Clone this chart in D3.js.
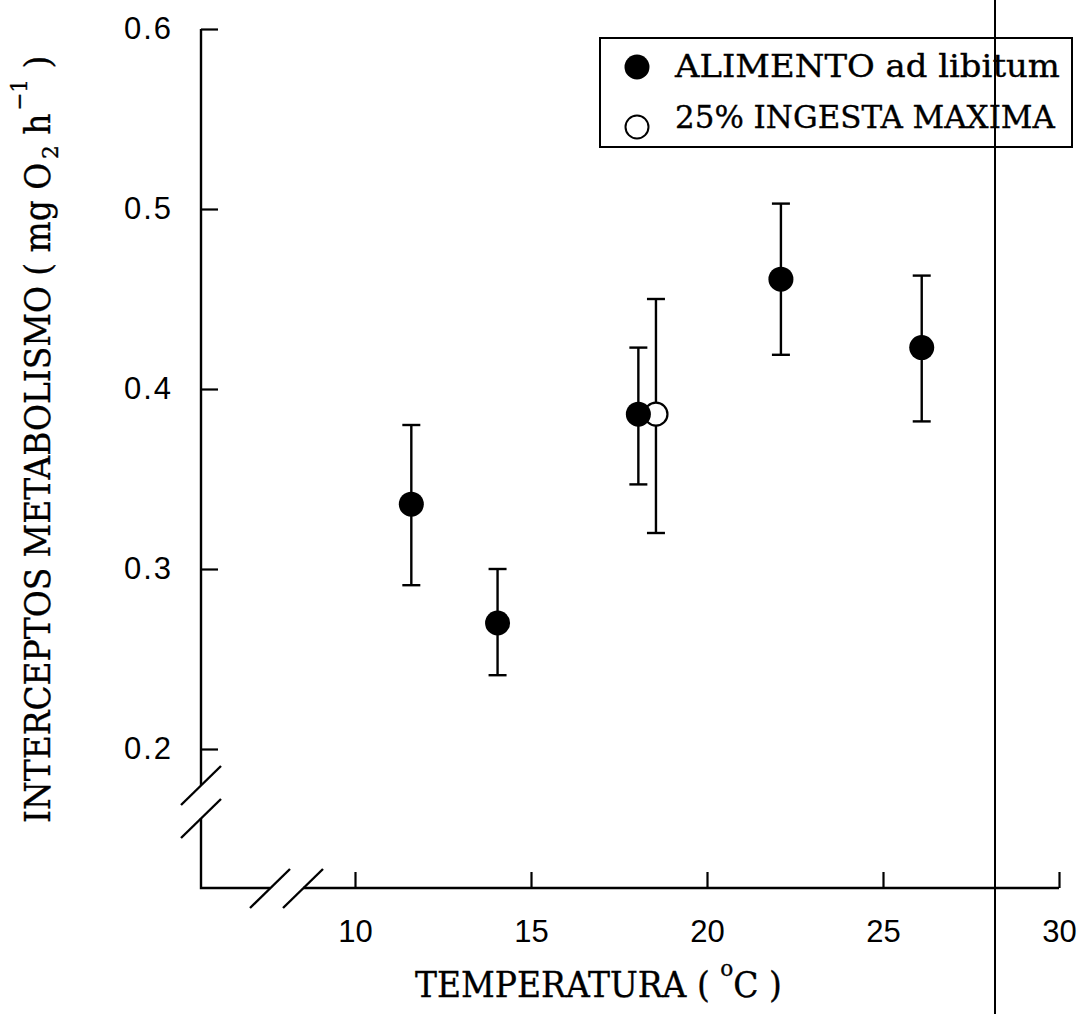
<!DOCTYPE html>
<html>
<head>
<meta charset="utf-8">
<script src="https://cdn.jsdelivr.net/npm/d3@7"></script>
<style>
  body { margin: 0; background: #fff; }
  svg { display: block; }
</style>
</head>
<body>
<svg id="chart" width="1082" height="1014"></svg>
<script>
// Metabolic intercepts vs temperature, two feeding regimes (mean with error range)
const adLibTemp   = [11.6, 14.05, 18.05, 22.1, 26.1];
const adLibMean   = [0.336, 0.270, 0.386, 0.461, 0.423];
const adLibUpper  = [0.380, 0.300, 0.423, 0.503, 0.463];
const adLibLower  = [0.291, 0.241, 0.347, 0.419, 0.382];

const ration25Temp  = [18.55];
const ration25Mean  = [0.386];
const ration25Upper = [0.450];
const ration25Lower = [0.320];

const xTickValues = [10, 15, 20, 25, 30];
const yTickValues = [0.2, 0.3, 0.4, 0.5, 0.6];
const legendLabels = ["ALIMENTO ad libitum", "25% INGESTA MAXIMA"];

const svg = d3.select("#chart");
const W = 1082, H = 1014;

const x = d3.scaleLinear().domain([10, 30]).range([355, 1059]);
const y = d3.scaleLinear().domain([0.2, 0.6]).range([749, 29]);

const axisLeftX = 201;     // position of the y axis line
const axisBottomY = 888;   // position of the x axis line
const ink = "#000";
const serif = "'DejaVu Serif', 'Liberation Serif', serif";
const sans = "'Liberation Sans', Arial, sans-serif";

// ---- axes (ticks point inward) ----
const yAxis = d3.axisLeft(y).tickValues(yTickValues)
  .tickFormat(d3.format(".1f")).tickSizeInner(-17).tickSizeOuter(0).tickPadding(28);
const gy = svg.append("g").attr("transform", `translate(${axisLeftX},0)`).call(yAxis);
gy.select(".domain").remove();
gy.selectAll(".tick line").attr("stroke", ink).attr("stroke-width", 2.2);
gy.selectAll(".tick text").attr("font-family", sans).attr("font-size", 31)
  .attr("letter-spacing", 2).attr("fill", ink);

const xAxis = d3.axisBottom(x).tickValues(xTickValues)
  .tickFormat(d3.format("d")).tickSizeInner(-16).tickSizeOuter(0).tickPadding(32);
const gx = svg.append("g").attr("transform", `translate(0,${axisBottomY})`).call(xAxis);
gx.select(".domain").remove();
gx.selectAll(".tick line").attr("stroke", ink).attr("stroke-width", 2.2);
gx.selectAll(".tick text").attr("font-family", sans).attr("font-size", 31).attr("fill", ink);

// axis lines with scale breaks
const axisG = svg.append("g").attr("stroke", ink).attr("stroke-width", 2.4).attr("fill", "none");
const yBreakA = y(0.2) + 36, yBreakB = y(0.2) + 69;
const xBreakA = axisLeftX + 69, xBreakB = axisLeftX + 102;
axisG.append("path").attr("d", `M${axisLeftX},${y(0.6)}V${yBreakA}`);
axisG.append("path").attr("d", `M${axisLeftX},${yBreakB}V${axisBottomY}H${xBreakA}`);
axisG.append("path").attr("d", `M${xBreakB},${axisBottomY}H${x(30)}`);
// break slashes
const slash = (cx, cy) => `M${cx - 20},${cy + 20}L${cx + 20},${cy - 19}`;
axisG.append("path").attr("d", slash(axisLeftX, yBreakA));
axisG.append("path").attr("d", slash(axisLeftX, yBreakB));
axisG.append("path").attr("d", slash(xBreakA, axisBottomY));
axisG.append("path").attr("d", slash(xBreakB, axisBottomY));

// ---- data ----
const adLib = adLibTemp.map((t, i) => ({ t, m: adLibMean[i], hi: adLibUpper[i], lo: adLibLower[i] }));
const ration = ration25Temp.map((t, i) => ({ t, m: ration25Mean[i], hi: ration25Upper[i], lo: ration25Lower[i] }));

const capHalf = 9;
function errorBars(data) {
  const g = svg.append("g").attr("stroke", ink).attr("stroke-width", 2.4);
  g.selectAll("line.v").data(data).join("line").attr("class", "v")
    .attr("x1", d => x(d.t)).attr("x2", d => x(d.t))
    .attr("y1", d => y(d.hi)).attr("y2", d => y(d.lo));
  g.selectAll("line.hi").data(data).join("line").attr("class", "hi")
    .attr("x1", d => x(d.t) - capHalf).attr("x2", d => x(d.t) + capHalf)
    .attr("y1", d => y(d.hi)).attr("y2", d => y(d.hi));
  g.selectAll("line.lo").data(data).join("line").attr("class", "lo")
    .attr("x1", d => x(d.t) - capHalf).attr("x2", d => x(d.t) + capHalf)
    .attr("y1", d => y(d.lo)).attr("y2", d => y(d.lo));
}
errorBars(ration);
errorBars(adLib);

svg.append("g").selectAll("circle").data(ration).join("circle")
  .attr("cx", d => x(d.t)).attr("cy", d => y(d.m)).attr("r", 11.5)
  .attr("fill", "#fff").attr("stroke", ink).attr("stroke-width", 2.2);
svg.append("g").selectAll("circle").data(adLib).join("circle")
  .attr("cx", d => x(d.t)).attr("cy", d => y(d.m)).attr("r", 12.5)
  .attr("fill", ink);

// ---- text helper: horizontal stretch factor so a text run spans a given length ----
function fitText(sel, target) {
  const w = sel.node().getComputedTextLength();
  return target / w;
}
const serifText = g => g.append("text").attr("font-family", serif).attr("fill", ink)
  .attr("stroke", ink).attr("stroke-width", 0.35);

// x axis title
{
  const g = svg.append("g");
  const t = serifText(g).attr("font-size", 35);
  t.append("tspan").text("TEMPERATURA ( ");
  t.append("tspan").attr("font-size", 23).attr("dy", -21).text("o");
  t.append("tspan").attr("dy", 21).text("C )");
  const s = fitText(t, 367);
  g.attr("transform", `translate(415,997) scale(${s},1)`);
}

// y axis title (rotated, reads bottom to top)
{
  const g = svg.append("g");
  const t = serifText(g).attr("font-size", 35);
  t.append("tspan").text("INTERCEPTOS METABOLISMO ( mg O");
  t.append("tspan").attr("font-size", 23).attr("dy", 8).attr("dx", 4).text("2");
  t.append("tspan").attr("dy", -8).text(" h");
  t.append("tspan").attr("font-size", 23).attr("dy", -23).attr("dx", 3).text("\u2212");
  t.append("tspan").attr("font-size", 23).attr("dy", 0).text("1");
  t.append("tspan").attr("dy", 23).text(" )");
  const s = fitText(t, 761);
  g.attr("transform", `translate(50,823) rotate(-90) scale(${s},1)`);
}

// ---- legend ----
{
  const lg = svg.append("g");
  lg.append("rect").attr("x", 600).attr("y", 38).attr("width", 472).attr("height", 109)
    .attr("fill", "#fff").attr("stroke", ink).attr("stroke-width", 2);
  const rows = [
    { label: legendLabels[0], cy: 67, base: 77, filled: true, width: 385 },
    { label: legendLabels[1], cy: 127, base: 128, filled: false, width: 380 }
  ];
  rows.forEach(r => {
    lg.append("circle").attr("cx", 637).attr("cy", r.cy).attr("r", r.filled ? 12.5 : 11.5)
      .attr("fill", r.filled ? ink : "#fff").attr("stroke", ink).attr("stroke-width", r.filled ? 0 : 2);
    const g = lg.append("g");
    const t = serifText(g).attr("font-size", 31).text(r.label);
    const s = fitText(t, r.width);
    g.attr("transform", `translate(675,${r.base}) scale(${s},1)`);
  });
}

// vertical rule crossing the page on the right
svg.append("line").attr("x1", 995).attr("x2", 995).attr("y1", 0).attr("y2", H)
  .attr("stroke", ink).attr("stroke-width", 2);
</script>
</body>
</html>
